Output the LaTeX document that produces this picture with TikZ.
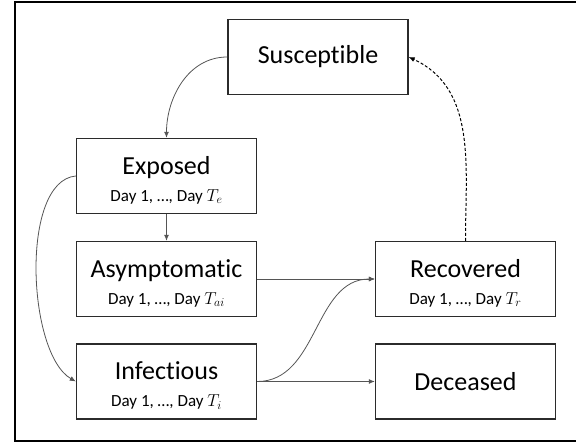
\documentclass[tikz,border=0pt]{standalone}
\usepackage{fontspec}
\setmainfont{Carlito}[Ligatures=NoCommon]
\usetikzlibrary{arrows.meta}
\definecolor{boxline}{HTML}{2B2B2B}
\definecolor{conn}{HTML}{555555}
\newcommand{\ttl}{\fontsize{26}{28}\selectfont}
\newcommand{\sub}{\fontsize{17}{19}\selectfont}
\newcommand{\tstrut}{\rule{0pt}{26pt}}
\tikzset{
  stagebox/.style={draw=boxline, line width=1.4pt, minimum width=180pt, minimum height=75pt, align=center, inner sep=0pt, font=\ttl},
  flow/.style={draw=conn, line width=0.8pt, -{Latex[length=6pt,width=5pt]}},
  backflow/.style={draw=black, line width=1pt, dashed, dash pattern=on 3pt off 2pt, -{Latex[length=6pt,width=5pt]}}
}
\begin{document}
\begin{tikzpicture}[x=1pt,y=-1pt]
\useasboundingbox (0,0) rectangle (576,443);
\draw[line width=2.2pt] (578,2) -- (15,2) -- (15,441) -- (578,441);
\node[stagebox] (S) at (318,57) {Susceptible};
\node[stagebox] (E) at (166.5,176) {\tstrut Exposed\\[-1pt]{\sub Day 1, …, Day $T_e$}};
\node[stagebox] (A) at (166.5,279) {\tstrut Asymptomatic\\[-1pt]{\sub Day 1, …, Day $T_{ai}$}};
\node[stagebox] (I) at (166.5,381.5) {\tstrut Infectious\\[-1pt]{\sub Day 1, …, Day $T_i$}};
\node[stagebox] (R) at (465.5,279) {\tstrut Recovered\\[-1pt]{\sub Day 1, …, Day $T_r$}};
\node[stagebox] (D) at (465.5,381.5) {Deceased};
\draw[flow] (S.west) to[out=180,in=90] (E.north);
\draw[flow] (E.west) to[out=185,in=150,looseness=0.7] (I.west);
\draw[flow] (E.south) -- (A.north);
\draw[flow] (A.east) -- (R.west);
\draw[flow] (I.east) to[out=0,in=180] (R.west);
\draw[flow] (I.east) -- (D.west);
\draw[backflow] (R.north) to[out=90,in=-25] (S.east);
\end{tikzpicture}
\end{document}
